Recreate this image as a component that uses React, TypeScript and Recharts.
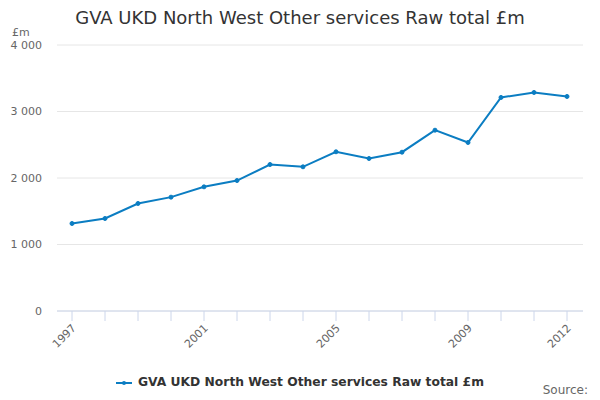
import React from "react";
import { LineChart, Line, XAxis, YAxis, CartesianGrid, Legend } from "recharts";

const years = [
  "1997", "1998", "1999", "2000", "2001", "2002", "2003", "2004",
  "2005", "2006", "2007", "2008", "2009", "2010", "2011", "2012",
];
const rawTotal = [
  1316, 1391, 1617, 1712, 1867, 1962, 2203, 2168,
  2394, 2293, 2388, 2719, 2534, 3211, 3286, 3226,
];
const yTicks = [0, 1000, 2000, 3000, 4000];
const labelledYears = ["1997", "2001", "2005", "2009", "2012"];
const seriesName = "GVA UKD North West Other services Raw total £m";

const LINE_COLOR = "#0b7dc2";
const FONT = "'DejaVu Sans', Verdana, sans-serif";

const rows = years.map((year, i) => ({ year, value: rawTotal[i] }));

const formatThousands = (v: number) =>
  v.toString().replace(/\B(?=(\d{3})+(?!\d))/g, " ");

const YearTick = (props: any) => {
  const { x, y, payload } = props;
  if (!labelledYears.includes(payload.value)) return null;
  return (
    <g transform={`translate(${x + 2},${y + 3})`}>
      <text
        transform="rotate(-45)"
        textAnchor="end"
        dy="0.35em"
        fontSize={11}
        fill="#666666"
      >
        {payload.value}
      </text>
    </g>
  );
};

const LegendContent = () => (
  <div
    style={{
      height: 44,
      paddingTop: 9,
      boxSizing: "border-box",
      display: "flex",
      justifyContent: "center",
      alignItems: "center",
      lineHeight: "15px",
    }}
  >
    <svg width={16} height={15} style={{ marginRight: 6 }}>
      <line x1={0} y1={8} x2={16} y2={8} stroke={LINE_COLOR} strokeWidth={2} />
      <circle cx={8} cy={8} r={2} fill={LINE_COLOR} />
    </svg>
    <span style={{ fontSize: 12.3, fontWeight: "bold", color: "#333333" }}>
      {seriesName}
    </span>
  </div>
);

export default function App() {
  return (
    <div
      style={{
        position: "absolute",
        left: 0,
        top: 0,
        width: 600,
        height: 400,
        background: "#ffffff",
        fontFamily: FONT,
      }}
    >
      <div
        style={{
          position: "absolute",
          top: 7,
          left: 0,
          width: 600,
          textAlign: "center",
          fontSize: 18,
          color: "#333333",
          lineHeight: "22px",
        }}
      >
        {seriesName}
      </div>
      <div
        style={{
          position: "absolute",
          top: 25,
          left: 12,
          fontSize: 11,
          color: "#666666",
          lineHeight: "16px",
        }}
      >
        £m
      </div>
      <LineChart
        width={600}
        height={400}
        data={rows}
        margin={{ top: 45, right: 17, left: 0, bottom: 0 }}
      >
        <CartesianGrid vertical={false} stroke="#e6e6e6" />
        <XAxis
          dataKey="year"
          interval={0}
          padding={{ left: 15, right: 16 }}
          height={45}
          tickSize={10}
          tickMargin={2}
          stroke="#ccd6eb"
          tickLine={{ stroke: "#ccd6eb" }}
          axisLine={{ stroke: "#ccd6eb" }}
          tick={<YearTick />}
        />
        <YAxis
          domain={[0, 4000]}
          ticks={yTicks}
          width={57}
          axisLine={false}
          tickLine={false}
          tickSize={0}
          tickMargin={15}
          tick={{ fontSize: 11, fill: "#666666" }}
          tickFormatter={formatThousands}
        />
        <Legend
          verticalAlign="bottom"
          content={<LegendContent />}
          wrapperStyle={{ left: 0, width: 600 }}
        />
        <Line
          type="linear"
          dataKey="value"
          name={seriesName}
          stroke={LINE_COLOR}
          strokeWidth={2}
          dot={{ r: 2, fill: LINE_COLOR, stroke: LINE_COLOR, strokeWidth: 1 }}
          activeDot={false}
          isAnimationActive={false}
        />
      </LineChart>
      <div
        style={{
          position: "absolute",
          top: 382,
          right: 12,
          fontSize: 12,
          color: "#666666",
          lineHeight: "16px",
        }}
      >
        Source:
      </div>
    </div>
  );
}
